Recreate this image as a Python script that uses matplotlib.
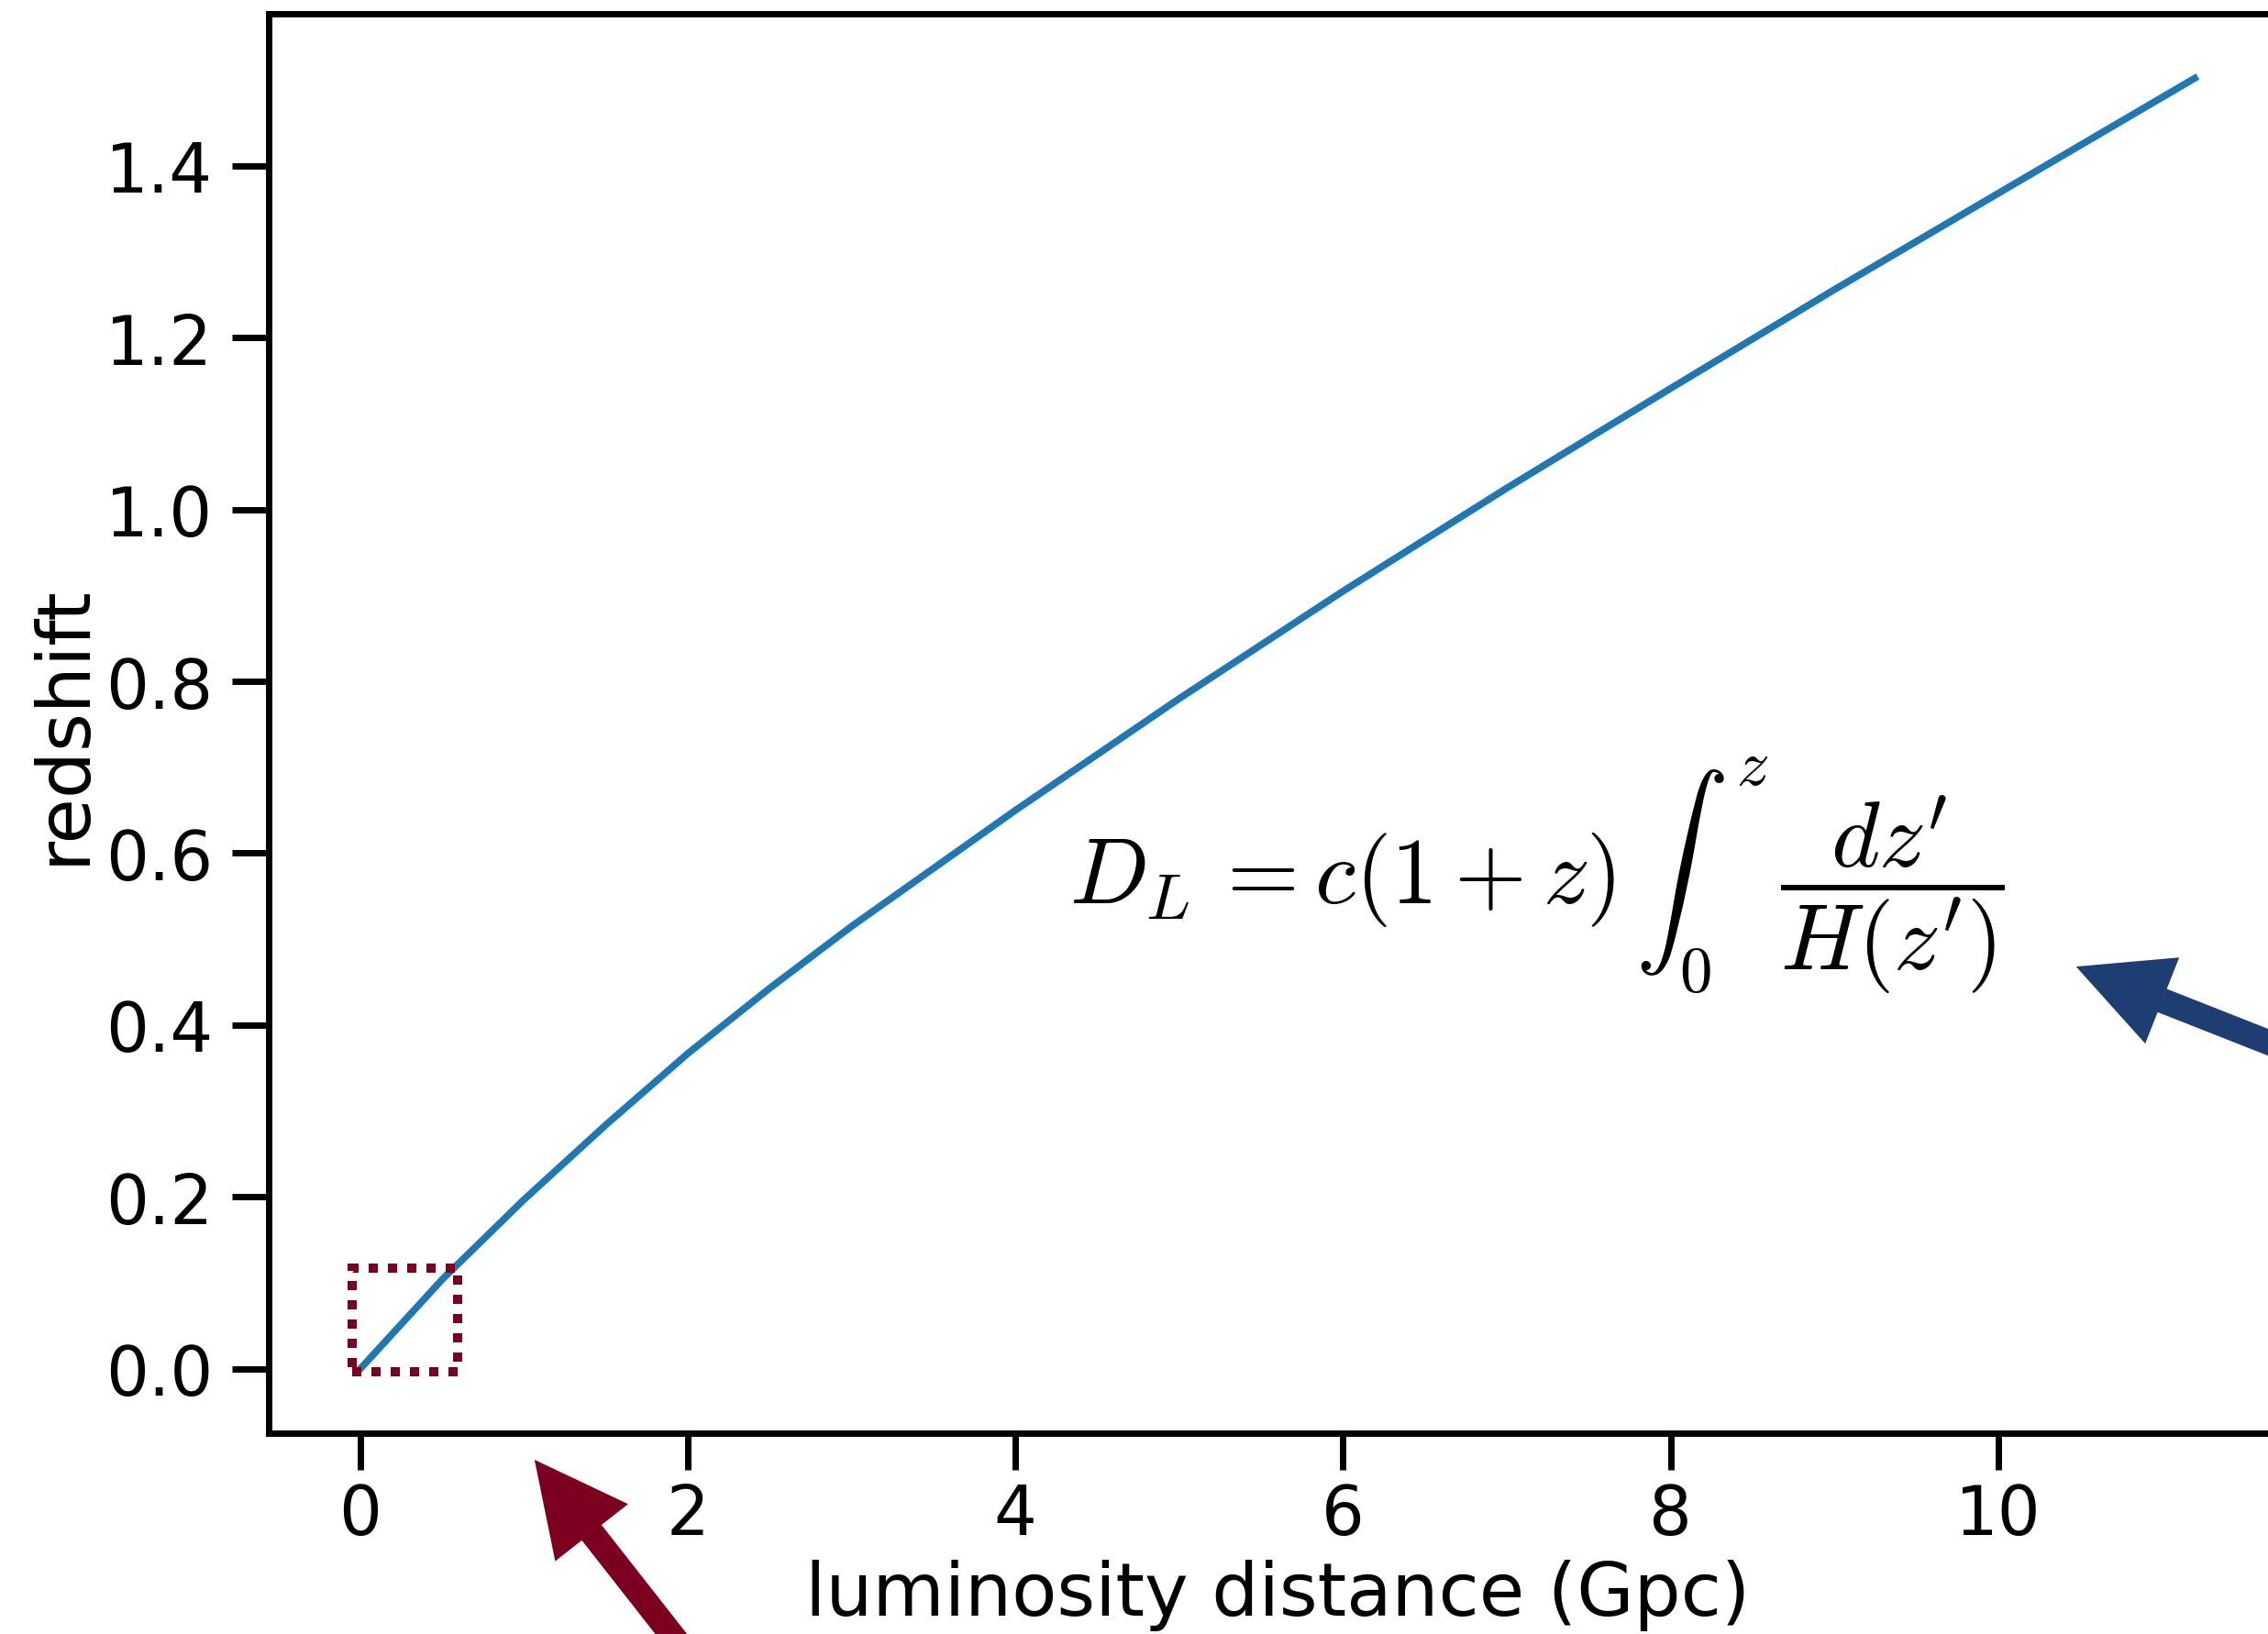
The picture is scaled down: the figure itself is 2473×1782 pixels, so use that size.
import matplotlib
matplotlib.use("Agg")
import matplotlib.pyplot as plt
from matplotlib.patches import Rectangle

# luminosity distance (Gpc) vs redshift
dl = [0, 0.5, 1.0, 1.5, 2.0, 2.5, 3.0, 4.0, 5.0, 6.0, 7.0, 8.0, 9.0, 10.0, 11.2]
z = [0, 0.104, 0.197, 0.284, 0.367, 0.443, 0.515, 0.650, 0.780, 0.905, 1.025,
     1.141, 1.256, 1.368, 1.502]

xticks = [0, 2, 4, 6, 8, 10]
yticks = [0.0, 0.2, 0.4, 0.6, 0.8, 1.0, 1.2, 1.4]

# zoom box near the origin (data coords)
box_x, box_y, box_w, box_h = -0.05, -0.004, 0.645, 0.121

red = '#7b0020'
navy = '#1e3d72'

plt.rcParams['mathtext.fontset'] = 'cm'

W, H, DPI = 2473, 1783, 100
fig = plt.figure(figsize=(W / DPI, H / DPI), dpi=DPI)
# the right edge of the axes runs just past the picture, as in the reference
ax = fig.add_axes([293 / W, 1 - 1564 / H, 2200 / W, 1548 / H])

ax.plot(dl, z, color='#1f77b4', lw=5.5, solid_joinstyle='round')
ax.autoscale_view()
ax.set_autoscale_on(False)

for s in ax.spines.values():
    s.set_linewidth(5)
ax.tick_params(length=29, width=5, labelsize=53, color='black')
ax.tick_params(axis='y', pad=15)
ax.tick_params(axis='x', pad=9)
ax.set_xticks(xticks)
ax.set_yticks(yticks)
ax.set_xticklabels([str(t) for t in xticks])
ax.set_yticklabels(['%.1f' % t for t in yticks])
ax.set_xlabel('luminosity distance (Gpc)', fontsize=58, labelpad=8)
ax.set_ylabel('redshift', fontsize=58, labelpad=4)

ax.add_patch(Rectangle((box_x, box_y), box_w, box_h, fill=False,
                       edgecolor=red, lw=7.2, linestyle=(0, (1, 1.1)),
                       capstyle='butt', zorder=3))

ax.text(4.33, 0.575, r"$D_L\,= c(1+z)\,\int_0^z\,\dfrac{dz'}{H(z')}$",
        fontsize=73, ha='left', va='center')

# arrows pointing at the zoom box and the formula
arrow = "simple,head_length=1,head_width=1,tail_width=0.27"
ax.annotate('', xy=(1.063, -0.106), xytext=(2.19, -0.380),
            annotation_clip=False,
            arrowprops=dict(arrowstyle=arrow, mutation_scale=72.7, color=red,
                            lw=0, shrinkA=0, shrinkB=0))
ax.annotate('', xy=(10.476, 0.468), xytext=(12.14, 0.343),
            annotation_clip=False,
            arrowprops=dict(arrowstyle=arrow, mutation_scale=72.7, color=navy,
                            lw=0, shrinkA=0, shrinkB=0))

fig.savefig('out.png', dpi=DPI)
